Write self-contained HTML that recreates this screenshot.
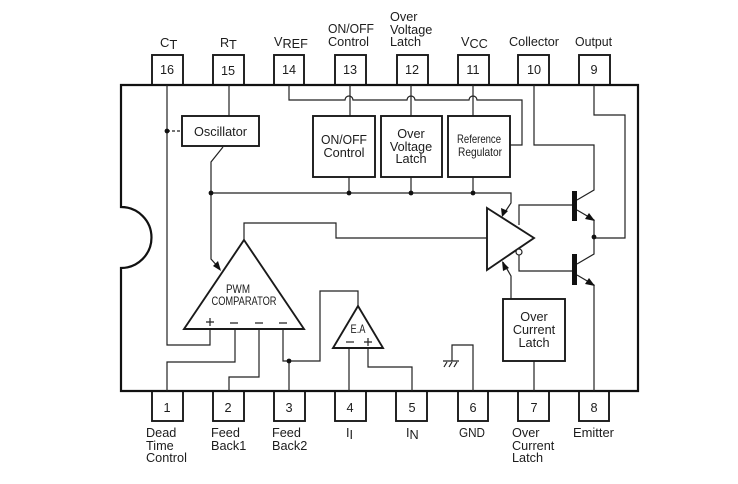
<!DOCTYPE html>
<html>
<head>
<meta charset="utf-8">
<style>
html,body{margin:0;padding:0;background:#fff;width:738px;height:484px;overflow:hidden}
svg{display:block}
text{font-family:"Liberation Sans",sans-serif;font-size:12.7px;fill:#1c1c1c}
.m{text-anchor:middle}
.l{fill:none;stroke:#222;stroke-width:1.2}
.b{fill:#fff;stroke:#1a1a1a;stroke-width:1.9}
.d{fill:#111}
.s{font-size:13px}
.n{font-size:12px}
</style>
</head>
<body>
<svg width="738" height="484" viewBox="0 0 738 484">
<!-- pins -->
<g class="b">
<rect x="152" y="55" width="31" height="30"/><rect x="213" y="55" width="31" height="30"/><rect x="274" y="55" width="30" height="30"/><rect x="335" y="55" width="31" height="30"/><rect x="397" y="55" width="31" height="30"/><rect x="458" y="55" width="31" height="30"/><rect x="518" y="55" width="31" height="30"/><rect x="579" y="55" width="31" height="30"/>
<rect x="152" y="391" width="31" height="30"/><rect x="213" y="391" width="31" height="30"/><rect x="274" y="391" width="31" height="30"/><rect x="335" y="391" width="31" height="30"/><rect x="396" y="391" width="31" height="30"/><rect x="458" y="391" width="30" height="30"/><rect x="518" y="391" width="31" height="30"/><rect x="579" y="391" width="30" height="30"/>
</g>
<!-- package -->
<path d="M121 207 A30.500 30.500 0 0 1 121 268 V391 H638 V85 H121 Z" fill="#fff" stroke="#111" stroke-width="2.2"/>

<!-- wires -->
<g class="l">
<path d="M167 85V345H210V329"/>
<path d="M167 131H182" stroke-dasharray="3 2"/>
<path d="M229 85V116"/>
<path d="M223 147L211 162V259L220 269"/>
<path d="M211 193H511V203L503 215"/>
<path d="M289 85V100H345a4 4 0 0 1 8 0H407a4 4 0 0 1 8 0H469a4 4 0 0 1 8 0H522V145H510"/>
<path d="M350 85V116M411 85V116M473 85V116"/>
<path d="M349 177V193M411 177V193M473 177V193"/>
<path d="M534 85V145H594V190L577 200"/>
<path d="M577 210L594 220V254L577 264"/>
<path d="M577 275L594 285V391"/>
<path d="M594 85V115H625V238H594"/>
<path d="M519 225V205H574"/>
<path d="M519 255V271H574"/>
<path d="M244 240V223H336V238H487"/>
<path d="M235 329V362H167V391"/>
<path d="M259 329V377H229V391"/>
<path d="M283 329V361H320V291H358V306"/>
<path d="M289 361V391"/>
<path d="M349 348V391"/>
<path d="M368 348V367H412V391"/>
<path d="M473 391V345H452V361"/>
<path d="M511 299V276L503 262"/>
<path d="M534 361V391"/>
<path d="M443 361H459M447 362L444 367M452 362L449 367M457 362L454 367"/>
</g>

<!-- arrowheads -->
<path class="d" d="M221 271L213 266L218 261Z"/>
<path class="d" d="M502 217L501 208L508 211Z"/>
<path class="d" d="M502 261L509 268L503 271Z"/>
<path class="d" d="M595 221L585 219L589 213Z"/>
<path class="d" d="M595 286L585 284L589 278Z"/>

<!-- dots -->
<g class="d">
<circle cx="167" cy="131" r="2.400"/><circle cx="211" cy="193" r="2.400"/><circle cx="349" cy="193" r="2.400"/><circle cx="411" cy="193" r="2.400"/><circle cx="473" cy="193" r="2.400"/><circle cx="594" cy="237" r="2.400"/><circle cx="289" cy="361" r="2.400"/>
</g>

<!-- blocks -->
<g class="b">
<rect x="182" y="116" width="77" height="30"/>
<rect x="313" y="116" width="62" height="61"/>
<rect x="381" y="116" width="61" height="61"/>
<rect x="448" y="116" width="62" height="61"/>
<rect x="503" y="299" width="62" height="62"/>
<path d="M244 240L304 329H184Z"/>
<path d="M358 306L383 348H333Z"/>
<path d="M487 208L534 238L487 270Z"/>
</g>
<circle cx="519" cy="252" r="3" fill="#fff" stroke="#222" stroke-width="1.2"/>

<!-- transistor bars -->
<rect x="572" y="191" width="5" height="30" fill="#111"/>
<rect x="572" y="254" width="5" height="31" fill="#111"/>

<!-- pin numbers -->
<g class="m">
<text x="167" y="74">16</text><text x="228" y="75">15</text><text x="289" y="74">14</text><text x="350" y="74">13</text><text x="412" y="74">12</text><text x="473" y="74">11</text><text x="534" y="74">10</text><text x="594" y="74">9</text>
<text x="167" y="412">1</text><text x="228" y="412">2</text><text x="289" y="412">3</text><text x="350" y="412">4</text><text x="412" y="412">5</text><text x="473" y="412">6</text><text x="534" y="412">7</text><text x="594" y="412">8</text>
</g>

<!-- top labels -->
<text x="160" y="47" class="s">C<tspan dy="2">T</tspan></text>
<text x="220" y="47">R<tspan dy="2">T</tspan></text>
<text x="274" y="46">V<tspan dy="2">REF</tspan></text>
<text x="328" y="33" textLength="46" lengthAdjust="spacingAndGlyphs">ON/OFF</text><text x="328" y="46" textLength="41" lengthAdjust="spacingAndGlyphs">Control</text>
<text x="390" y="21">Over</text><text x="390" y="34">Voltage</text><text x="390" y="46">Latch</text>
<text x="461" y="46">V<tspan dy="2">CC</tspan></text>
<text x="509" y="46" textLength="50" lengthAdjust="spacingAndGlyphs">Collector</text>
<text x="575" y="46" textLength="37" lengthAdjust="spacingAndGlyphs">Output</text>

<!-- bottom labels -->
<text x="146" y="437">Dead</text><text x="146" y="450">Time</text><text x="146" y="462">Control</text>
<text x="211" y="437">Feed</text><text x="211" y="450">Back1</text>
<text x="272" y="437">Feed</text><text x="272" y="450">Back2</text>
<text x="346" y="437">I<tspan dy="2">I</tspan></text>
<text x="406" y="437">I<tspan dy="2">N</tspan></text>
<text x="459" y="437" textLength="26" lengthAdjust="spacingAndGlyphs">GND</text>
<text x="512" y="437">Over</text><text x="512" y="450">Current</text><text x="512" y="462">Latch</text>
<text x="573" y="437" textLength="41" lengthAdjust="spacingAndGlyphs">Emitter</text>

<!-- block labels -->
<text x="220.500" y="136" class="m" textLength="53" lengthAdjust="spacingAndGlyphs">Oscillator</text>
<g class="m">
<text x="344" y="144" textLength="46" lengthAdjust="spacingAndGlyphs">ON/OFF</text><text x="344" y="157" textLength="41" lengthAdjust="spacingAndGlyphs">Control</text>
<text x="411" y="138">Over</text><text x="411" y="151">Voltage</text><text x="411" y="163">Latch</text>
<text x="479" y="143" class="n" textLength="44" lengthAdjust="spacingAndGlyphs">Reference</text><text x="480" y="156" class="n" textLength="44" lengthAdjust="spacingAndGlyphs">Regulator</text>
<text x="534" y="321">Over</text><text x="534" y="334">Current</text><text x="534" y="347">Latch</text>
<text x="238" y="293" class="n" textLength="24" lengthAdjust="spacingAndGlyphs">PWM</text><text x="244" y="305" class="n" textLength="65" lengthAdjust="spacingAndGlyphs">COMPARATOR</text>
<text x="358" y="333" class="n" textLength="15" lengthAdjust="spacingAndGlyphs">E.A</text>
</g>

<!-- signs -->
<g class="l">
<path d="M206 322H214M210 318V326"/>
<path d="M230 323H238M255 323H263M279 323H287"/>
<path d="M346 342H354"/>
<path d="M364 342H372M368 338V346"/>
</g>
</svg>
</body>
</html>
